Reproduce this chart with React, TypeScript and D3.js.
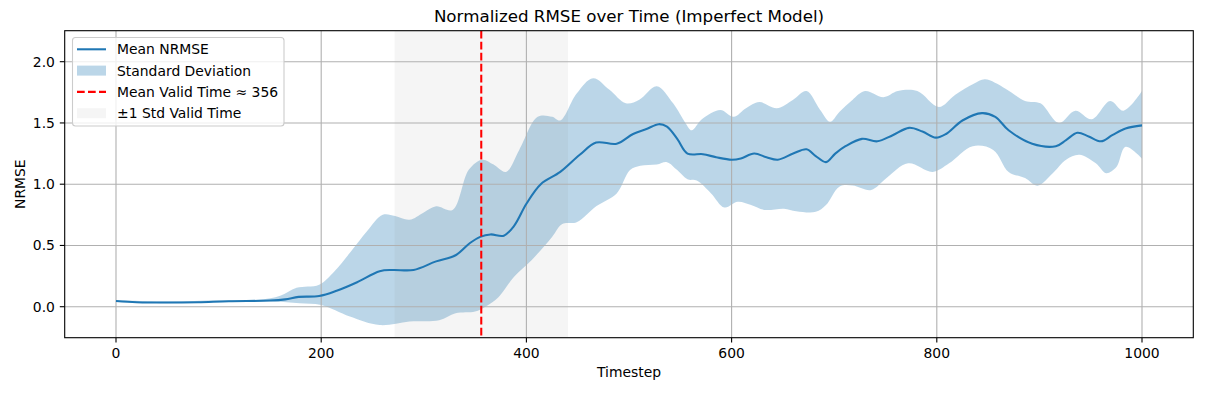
import React from 'react';
import * as d3 from 'd3';

// timesteps / values
const meanT = [0, 20, 50, 80, 110, 150, 165, 178, 198, 215, 235, 257, 270, 290, 312, 331, 345, 355, 365, 378, 388, 400, 414, 433, 452, 468, 488, 504, 517, 529, 537, 547, 557, 572, 585, 600, 609, 622, 634, 645, 660, 673, 682, 692, 701, 711, 727, 742, 757, 773, 786, 799, 809, 825, 844, 857, 870, 893, 916, 926, 937, 948, 960, 971, 984, 1000];
const meanV = [0.047, 0.037, 0.034, 0.037, 0.045, 0.05, 0.06, 0.08, 0.087, 0.13, 0.2, 0.29, 0.3, 0.3, 0.37, 0.42, 0.52, 0.57, 0.59, 0.58, 0.66, 0.84, 1.0, 1.1, 1.24, 1.34, 1.33, 1.41, 1.45, 1.49, 1.47, 1.37, 1.25, 1.245, 1.22, 1.2, 1.21, 1.25, 1.22, 1.2, 1.25, 1.285, 1.23, 1.18, 1.25, 1.31, 1.37, 1.35, 1.4, 1.46, 1.43, 1.38, 1.41, 1.52, 1.58, 1.55, 1.44, 1.33, 1.31, 1.36, 1.42, 1.39, 1.35, 1.4, 1.455, 1.48];

const upperT = [0, 50, 100, 140, 160, 176, 198, 213, 228, 245, 260, 272, 286, 300, 312, 328, 344, 357, 368, 380, 393, 411, 425, 433, 449, 465, 481, 497, 510, 527, 543, 555, 561, 571, 589, 602, 614, 627, 644, 660, 673, 686, 696, 705, 718, 730, 748, 762, 781, 802, 818, 836, 847, 867, 886, 901, 919, 935, 951, 969, 982, 1000];
const upperV = [0.055, 0.042, 0.052, 0.058, 0.09, 0.155, 0.18, 0.29, 0.44, 0.62, 0.75, 0.74, 0.71, 0.77, 0.82, 0.79, 1.12, 1.2, 1.16, 1.1, 1.28, 1.55, 1.55, 1.52, 1.74, 1.865, 1.77, 1.66, 1.69, 1.8, 1.66, 1.5, 1.44, 1.53, 1.606, 1.55, 1.62, 1.67, 1.62, 1.69, 1.76, 1.61, 1.51, 1.59, 1.69, 1.76, 1.71, 1.76, 1.76, 1.63, 1.73, 1.82, 1.856, 1.78, 1.68, 1.66, 1.5, 1.6, 1.53, 1.68, 1.6, 1.76];

const lowerT = [0, 50, 100, 140, 160, 179, 200, 228, 257, 286, 315, 331, 350, 360, 373, 388, 405, 425, 435, 449, 468, 488, 501, 511, 527, 537, 547, 557, 566, 580, 593, 606, 619, 632, 651, 663, 682, 692, 705, 718, 736, 751, 772, 796, 812, 835, 855, 870, 886, 898, 913, 926, 939, 955, 965, 975, 984, 1000];
const lowerV = [0.04, 0.028, 0.04, 0.045, 0.04, 0.028, 0.014, -0.08, -0.15, -0.12, -0.11, -0.054, -0.04, 0.0, 0.08, 0.245, 0.38, 0.57, 0.675, 0.69, 0.82, 0.925, 1.115, 1.15, 1.16, 1.18, 1.115, 1.04, 1.03, 0.925, 0.81, 0.857, 0.83, 0.79, 0.8, 0.78, 0.775, 0.83, 0.98, 0.99, 0.953, 1.05, 1.17, 1.1, 1.17, 1.31, 1.28, 1.1, 1.05, 0.988, 1.09, 1.2, 1.24, 1.17, 1.09, 1.14, 1.306, 1.21];

const validMean = 356;
const validStd = 84.5;

const xTicks = [0, 200, 400, 600, 800, 1000];
const yTicks = [0, 0.5, 1.0, 1.5, 2.0];

const W = 1232;
const H = 396;
const font = 'DejaVu Sans, sans-serif';
const blue = '#1f77b4';

export default function App() {
  const x = d3.scaleLinear().domain([-50, 1050]).range([64.7, 1193.3]);
  const y = d3.scaleLinear().domain([-0.253, 2.253]).range([337.7, 30.7]);
  const [x0, x1] = x.range();
  const [yb, yt] = y.range();

  const line = d3.line<[number, number]>()
    .x(d => x(d[0]))
    .y(d => y(d[1]))
    .curve(d3.curveCatmullRom);

  const meanPts = meanT.map((t, i) => [t, meanV[i]] as [number, number]);
  const upPts = upperT.map((t, i) => [t, upperV[i]] as [number, number]);
  const lowPts = lowerT.map((t, i) => [t, lowerV[i]] as [number, number]).reverse();
  const band = (line(upPts) || '') + (line(lowPts) || '').replace(/^M/, 'L') + 'Z';

  const legendRows = [
    { label: 'Mean NRMSE', kind: 'line' },
    { label: 'Standard Deviation', kind: 'band' },
    { label: `Mean Valid Time \u2248 ${validMean}`, kind: 'dash' },
    { label: '\u00b11 Std Valid Time', kind: 'span' },
  ];

  return (
    <svg width={W} height={H} style={{ position: 'absolute', left: 0, top: 0, background: '#fff' }} fontFamily={font}>
      <defs>
        <clipPath id="plot">
          <rect x={x0} y={yt} width={x1 - x0} height={yb - yt} />
        </clipPath>
      </defs>
      <g clipPath="url(#plot)">
        <path d={band} fill={blue} fillOpacity={0.3} />
        <rect x={x(validMean - validStd)} y={yt} width={x(validMean + validStd) - x(validMean - validStd)} height={yb - yt} fill="#808080" fillOpacity={0.08} />
        {xTicks.map(t => (
          <line key={'gx' + t} x1={x(t)} x2={x(t)} y1={yt} y2={yb} stroke="#b0b0b0" strokeWidth={1.1} />
        ))}
        {yTicks.map(t => (
          <line key={'gy' + t} x1={x0} x2={x1} y1={y(t)} y2={y(t)} stroke="#b0b0b0" strokeWidth={1.1} />
        ))}
        <path d={line(meanPts) || ''} fill="none" stroke={blue} strokeWidth={2.08} />
        <line x1={x(validMean)} x2={x(validMean)} y1={yt} y2={yb} stroke="red" strokeWidth={2.08} strokeDasharray="7.7,3.3" />
      </g>
      <rect x={x0} y={yt} width={x1 - x0} height={yb - yt} fill="none" stroke="#000" strokeWidth={1.1} />

      {xTicks.map(t => (
        <g key={'tx' + t}>
          <line x1={x(t)} x2={x(t)} y1={yb} y2={yb + 4.9} stroke="#000" strokeWidth={1.1} />
          <text x={x(t)} y={358} fontSize={13.9} textAnchor="middle">{t}</text>
        </g>
      ))}
      {yTicks.map(t => (
        <g key={'ty' + t}>
          <line x1={x0 - 4.9} x2={x0} y1={y(t)} y2={y(t)} stroke="#000" strokeWidth={1.1} />
          <text x={x0 - 9.8} y={y(t)} dy="0.36em" fontSize={13.9} textAnchor="end">{t.toFixed(1)}</text>
        </g>
      ))}

      <text x={(x0 + x1) / 2} y={377} fontSize={13.9} textAnchor="middle">Timestep</text>
      <text transform={`translate(25,${(yt + yb) / 2}) rotate(-90)`} fontSize={13.9} textAnchor="middle">NRMSE</text>
      <text x={(x0 + x1) / 2} y={22} fontSize={16.7} textAnchor="middle">Normalized RMSE over Time (Imperfect Model)</text>

      <g>
        <rect x={72.5} y={37.5} width={211.5} height={88.5} rx={3} fill="#fff" fillOpacity={0.8} stroke="#cccccc" strokeWidth={1.1} />
        {legendRows.map((r, i) => {
          const cy = 49.3 + i * 21.3;
          return (
            <g key={r.label}>
              {r.kind === 'line' && <line x1={77} x2={106} y1={cy} y2={cy} stroke={blue} strokeWidth={2.08} />}
              {r.kind === 'band' && <rect x={77} y={cy - 5} width={29} height={10} fill={blue} fillOpacity={0.3} />}
              {r.kind === 'dash' && <line x1={77} x2={106} y1={cy} y2={cy} stroke="red" strokeWidth={2.08} strokeDasharray="7.7,3.3" />}
              {r.kind === 'span' && <rect x={77} y={cy - 5} width={29} height={10} fill="#808080" fillOpacity={0.08} />}
              <text x={117} y={cy} dy="0.36em" fontSize={13.9}>{r.label}</text>
            </g>
          );
        })}
      </g>
    </svg>
  );
}
